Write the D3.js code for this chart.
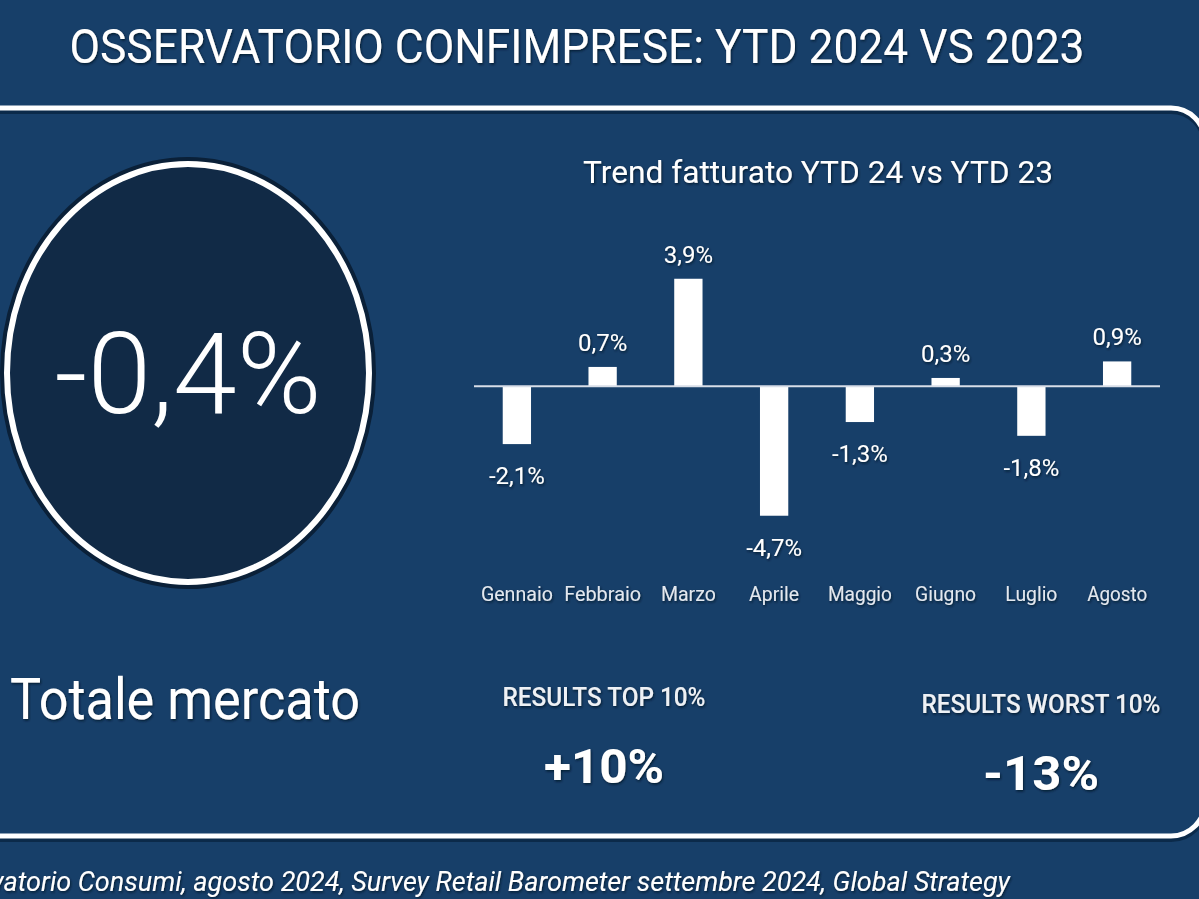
<!DOCTYPE html>
<html>
<head>
<meta charset="utf-8">
<script src="https://cdn.jsdelivr.net/npm/d3@7/dist/d3.min.js"></script>
<style>
  html, body { margin: 0; padding: 0; background: #173f69; overflow: hidden; }
  svg { display: block; }
  text { font-family: Roboto, "Noto Sans", sans-serif; }
</style>
</head>
<body>
<svg id="chart" width="1199" height="899"></svg>
<script>
// ---- data ----
const title = "OSSERVATORIO CONFIMPRESE: YTD 2024 VS 2023";
const chartTitle = "Trend fatturato YTD 24 vs YTD 23";
const months = ["Gennaio", "Febbraio", "Marzo", "Aprile", "Maggio", "Giugno", "Luglio", "Agosto"];
const values = [-2.1, 0.7, 3.9, -4.7, -1.3, 0.3, -1.8, 0.9];
const totalValue = -0.4;
const totalLabel = "Totale mercato";
const kpiLabels = ["RESULTS TOP 10%", "RESULTS WORST 10%"];
const kpiValues = ["+10%", "-13%"];
const footer = "Fonte: Osservatorio Consumi, agosto 2024, Survey Retail Barometer settembre 2024, Global Strategy";

const fmt = v => d3.format(".1f")(v).replace(".", ",").replace("−", "-") + "%";

const svg = d3.select("#chart");
const W = 1199, H = 899;

// shadow filter for text
const defs = svg.append("defs");
const f = defs.append("filter").attr("id", "ts").attr("x", "-10%").attr("y", "-20%").attr("width", "120%").attr("height", "140%");
f.append("feDropShadow").attr("dx", 1).attr("dy", 1.5).attr("stdDeviation", 1).attr("flood-color", "#06182c").attr("flood-opacity", 0.85);

svg.append("rect").attr("width", W).attr("height", H).attr("fill", "#173f69");

// title
svg.append("text").attr("x", 577).attr("y", 63)
  .attr("text-anchor", "middle").attr("font-size", 48).attr("font-weight", 400)
  .attr("fill", "#ffffff").attr("filter", "url(#ts)")
  .attr("textLength", 1015).attr("lengthAdjust", "spacingAndGlyphs")
  .text(title);

// panel frame
svg.append("rect").attr("x", -40).attr("y", 111).attr("width", 1245).attr("height", 728)
  .attr("rx", 34).attr("fill", "none").attr("stroke", "#0b2a4a").attr("stroke-width", 6);
svg.append("rect").attr("x", -40).attr("y", 108).attr("width", 1245).attr("height", 728)
  .attr("rx", 34).attr("fill", "none").attr("stroke", "#ffffff").attr("stroke-width", 5);

// big circle
svg.append("ellipse").attr("cx", 188).attr("cy", 373).attr("rx", 183).attr("ry", 211)
  .attr("fill", "#112a46").attr("stroke", "#0a2038").attr("stroke-width", 10);
svg.append("ellipse").attr("cx", 188).attr("cy", 373).attr("rx", 181).attr("ry", 209)
  .attr("fill", "#112a46").attr("stroke", "#ffffff").attr("stroke-width", 6);
svg.append("text").attr("x", 188).attr("y", 413)
  .attr("text-anchor", "middle").attr("font-size", 113).attr("font-weight", 300)
  .attr("fill", "#ffffff")
  .attr("textLength", 267).attr("lengthAdjust", "spacingAndGlyphs")
  .text(fmt(totalValue));

svg.append("text").attr("x", 10).attr("y", 719)
  .attr("font-size", 57).attr("font-weight", 400).attr("fill", "#ffffff").attr("filter", "url(#ts)")
  .attr("textLength", 350).attr("lengthAdjust", "spacingAndGlyphs")
  .text(totalLabel);

// chart title
svg.append("text").attr("x", 818).attr("y", 183)
  .attr("text-anchor", "middle").attr("font-size", 31).attr("font-weight", 400)
  .attr("fill", "#ffffff").attr("filter", "url(#ts)")
  .attr("textLength", 470).attr("lengthAdjust", "spacingAndGlyphs")
  .text(chartTitle);

// bar chart
const x = d3.scaleBand().domain(months).range([474, 1160]).paddingInner(0.67).paddingOuter(0.335);
const y = d3.scaleLinear().domain([-5, 4]).range([524, 276]);

const g = svg.append("g");
g.selectAll("rect.bar").data(values).join("rect").attr("class", "bar")
  .attr("x", (d, i) => x(months[i]))
  .attr("width", x.bandwidth())
  .attr("y", d => Math.min(y(d), y(0)))
  .attr("height", d => Math.abs(y(d) - y(0)))
  .attr("fill", "#ffffff");

g.append("line").attr("x1", 474).attr("x2", 1160).attr("y1", y(0)).attr("y2", y(0))
  .attr("stroke", "#d8dee8").attr("stroke-width", 2);

g.selectAll("text.val").data(values).join("text").attr("class", "val")
  .attr("x", (d, i) => x(months[i]) + x.bandwidth() / 2)
  .attr("y", d => d >= 0 ? y(d) - 16 : y(d) + 40)
  .attr("text-anchor", "middle").attr("font-size", 24).attr("fill", "#ffffff")
  .attr("filter", "url(#ts)")
  .text(d => fmt(d));

const labelW = [72, 77, 55, 50, 64, 61, 52, 60];
const xAxis = g.append("g").attr("transform", "translate(0,594)")
  .call(d3.axisBottom(x).tickSize(0).tickPadding(0));
xAxis.select(".domain").remove();
xAxis.selectAll("text").attr("font-size", 20).attr("fill", "#e3e8ef")
  .attr("font-family", "Roboto, sans-serif").attr("dy", "0.35em").attr("filter", "url(#ts)")
  .attr("textLength", (d, i) => labelW[i])
  .attr("lengthAdjust", "spacingAndGlyphs");

// KPIs
const kpiX = [604, 1041];
const kpiLabelY = [706, 713];
const kpiValY = [783, 790];
const kpiLabelW = [203, 239];
const kpiValW = [120, 116];
kpiLabels.forEach((l, i) => {
  svg.append("text").attr("x", kpiX[i]).attr("y", kpiLabelY[i])
    .attr("text-anchor", "middle").attr("font-size", 26).attr("font-weight", 500)
    .attr("fill", "#eef1f5").attr("filter", "url(#ts)")
    .attr("textLength", kpiLabelW[i]).attr("lengthAdjust", "spacingAndGlyphs")
    .text(l);
  svg.append("text").attr("x", kpiX[i]).attr("y", kpiValY[i])
    .attr("text-anchor", "middle").attr("font-size", 48).attr("font-weight", 700)
    .attr("fill", "#ffffff").attr("filter", "url(#ts)")
    .attr("textLength", kpiValW[i]).attr("lengthAdjust", "spacingAndGlyphs")
    .text(kpiValues[i]);
});

// footer
svg.append("text").attr("x", 1010).attr("y", 891)
  .attr("text-anchor", "end").attr("font-size", 27).attr("font-style", "italic")
  .attr("fill", "#ffffff").attr("filter", "url(#ts)")
  .text(footer);
</script>
</body>
</html>
